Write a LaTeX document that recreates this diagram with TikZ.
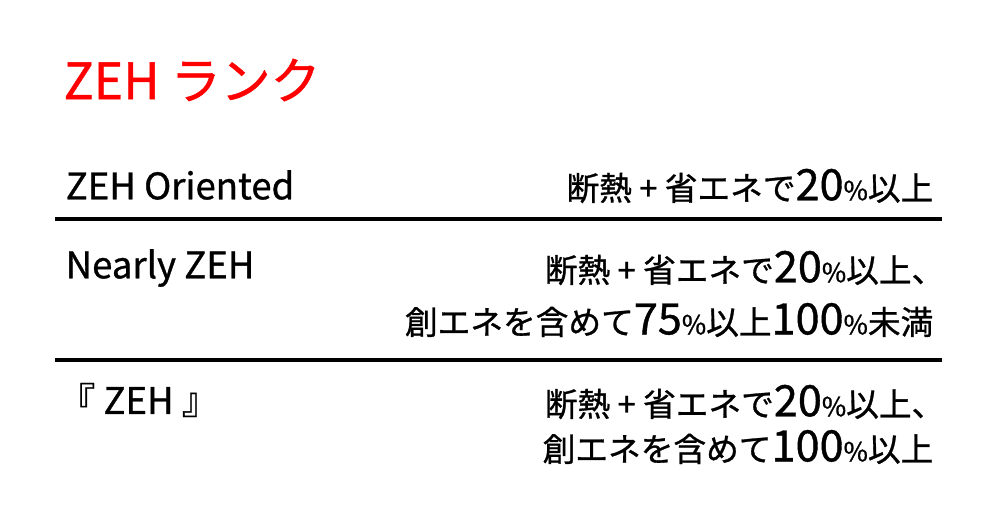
\documentclass[tikz,border=0pt]{standalone}
\usepackage{fontspec}
\setmainfont{Noto Sans CJK JP}[FakeBold=0.9]
\newcommand{\nm}[1]{{\fontsize{12.3pt}{12pt}\selectfont #1}}
\newcommand{\pc}{{\fontsize{7.5pt}{8pt}\selectfont \%}}
\begin{document}
\begin{tikzpicture}[x=0.01cm,y=-0.01cm,
  body/.style={font=\fontsize{9.3pt}{11pt}\selectfont, inner sep=0pt},
  lab/.style={font=\fontsize{10.4pt}{12pt}\selectfont, inner sep=0pt, anchor=west},
  rt/.style={body, anchor=east, align=right},
  rule/.style={line width=1.2pt}]
\useasboundingbox (0,0) rectangle (1000,530);
\node[anchor=west, inner sep=0pt, text=red, font=\fontsize{14.2pt}{16pt}\selectfont] (t) at (63,80) {ZEH ランク};
\node[lab] (a) at (65,185) {ZEH Oriented};
\node[rt] (ar) at (934,186) {断熱 + 省エネで\nm{20}\pc 以上};
\draw[rule] (55,219) -- (942,219);
\node[lab] (b) at (65,268) {Nearly ZEH};
\node[rt] (br1) at (945,268) {断熱 + 省エネで\nm{20}\pc 以上、};
\node[rt] (br2) at (934,320) {創エネを含めて\nm{75}\pc 以上\nm{100}\pc 未満};
\draw[rule] (55,360) -- (942,360);
\node[lab] (c) at (58,400) {『 ZEH 』};
\node[rt] (cr1) at (945,402) {断熱 + 省エネで\nm{20}\pc 以上、};
\node[rt] (cr2) at (934,447) {創エネを含めて\nm{100}\pc 以上};
\end{tikzpicture}
\end{document}
